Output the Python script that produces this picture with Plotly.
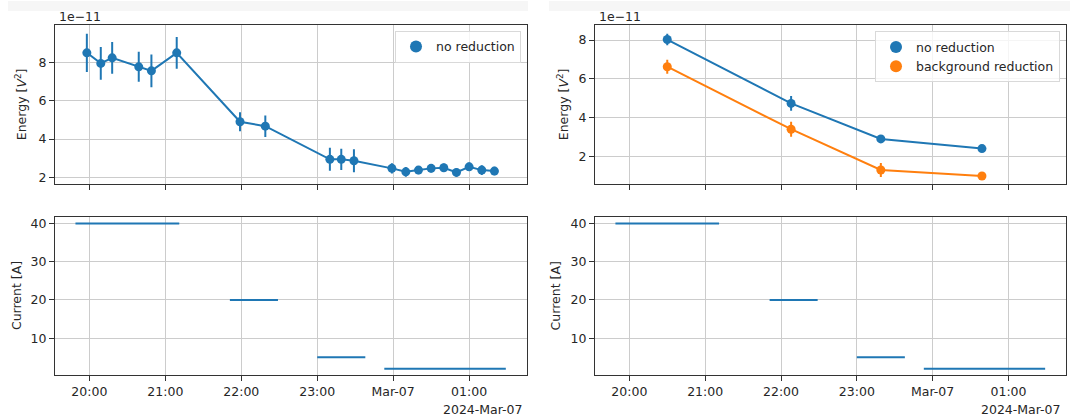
import plotly.graph_objects as go

W, H = 1070, 416

# ---- data -------------------------------------------------------------
# Energy per measurement, no reduction (units of 1e-11 V^2)
times_all = [
    "2024-03-06 19:58", "2024-03-06 20:09", "2024-03-06 20:18", "2024-03-06 20:39",
    "2024-03-06 20:49", "2024-03-06 21:09", "2024-03-06 21:59", "2024-03-06 22:19",
    "2024-03-06 23:10", "2024-03-06 23:19", "2024-03-06 23:29", "2024-03-06 23:59",
    "2024-03-07 00:10", "2024-03-07 00:20", "2024-03-07 00:30", "2024-03-07 00:40",
    "2024-03-07 00:50", "2024-03-07 01:00", "2024-03-07 01:10", "2024-03-07 01:20",
]
energy_all = [8.49, 7.94, 8.23, 7.76, 7.55, 8.49, 4.90, 4.67, 2.94, 2.94,
              2.87, 2.47, 2.29, 2.38, 2.47, 2.50, 2.26, 2.55, 2.38, 2.33]
energy_all_err = [1.00, 0.85, 0.83, 0.78, 0.85, 0.83, 0.50, 0.56, 0.60, 0.55,
                  0.60, 0.27, 0.25, 0.22, 0.22, 0.22, 0.22, 0.22, 0.25, 0.22]

# Energy averaged per current step
times_step = ["2024-03-06 20:30", "2024-03-06 22:08", "2024-03-06 23:19", "2024-03-07 00:39"]
energy_step = [8.03, 4.74, 2.91, 2.41]
energy_step_err = [0.30, 0.38, 0.12, 0.10]
energy_bg = [6.63, 3.41, 1.31, 1.00]
energy_bg_err = [0.36, 0.39, 0.36, 0.08]

# Current steps
current_start = ["2024-03-06 19:49", "2024-03-06 21:51", "2024-03-06 23:00", "2024-03-06 23:53"]
current_end = ["2024-03-06 21:11", "2024-03-06 22:29", "2024-03-06 23:38", "2024-03-07 01:29"]
current_val = [40, 20, 5, 2]

tick_vals = ["2024-03-06 20:00", "2024-03-06 21:00", "2024-03-06 22:00",
             "2024-03-06 23:00", "2024-03-07 00:00", "2024-03-07 01:00"]
tick_text = ["20:00", "21:00", "22:00", "23:00", "Mar-07", "01:00"]
x_range = ["2024-03-06 19:32:50", "2024-03-07 01:45:30"]

BLUE = "#1f77b4"
ORANGE = "#ff7f0e"
FONT = dict(family="DejaVu Sans", size=12.5, color="#262626")

# ---- figure -----------------------------------------------------------
fig = go.Figure()


def px_x(p):
    return p / W


def px_y(p):
    return 1 - p / H


def series(xaxis, yaxis, x, y, err, color, name, legend, show):
    fig.add_trace(go.Scatter(x=x, y=y, mode="lines", line=dict(color=color, width=2),
                             xaxis=xaxis, yaxis=yaxis, showlegend=False, hoverinfo="skip"))
    fig.add_trace(go.Scatter(x=x, y=y, mode="markers", name=name,
                             marker=dict(color=color, size=9),
                             error_y=dict(type="data", array=err, thickness=2, width=0, color=color),
                             xaxis=xaxis, yaxis=yaxis, showlegend=show, legend=legend))


def current(xaxis, yaxis):
    xs, ys = [], []
    for s, e, v in zip(current_start, current_end, current_val):
        xs += [s, e, None]
        ys += [v, v, None]
    fig.add_trace(go.Scatter(x=xs, y=ys, mode="lines", line=dict(color=BLUE, width=2),
                             xaxis=xaxis, yaxis=yaxis, showlegend=False))


series("x", "y", times_all, energy_all, energy_all_err, BLUE, "no reduction", "legend", True)
current("x2", "y2")
series("x3", "y3", times_step, energy_step, energy_step_err, BLUE, "no reduction", "legend2", True)
series("x3", "y3", times_step, energy_bg, energy_bg_err, ORANGE, "background reduction", "legend2", True)
current("x4", "y4")

common = dict(showline=True, mirror=True, linecolor="#333333", linewidth=1,
              showgrid=True, gridcolor="#cccccc", gridwidth=1, zeroline=False,
              ticks="outside", ticklen=5, tickwidth=1, tickcolor="#333333",
              tickfont=FONT)

# panel frames in pixels: (left, right, top, bottom)
left_x = [px_x(55), px_x(526.7)]
right_x = [px_x(595), px_x(1066)]
top_y = [px_y(184), px_y(24.3)]
bot_y = [px_y(376), px_y(216.7)]

xcommon = dict(common, type="date", range=x_range, tickvals=tick_vals, ticktext=tick_text)

fig.update_layout(
    width=W, height=H,
    margin=dict(l=0, r=0, t=0, b=0),
    paper_bgcolor="white", plot_bgcolor="white",
    font=FONT,
    xaxis=dict(xcommon, domain=left_x, anchor="y", showticklabels=False),
    yaxis=dict(common, domain=top_y, anchor="x", range=[1.65, 9.93], tickvals=[2, 4, 6, 8]),
    xaxis2=dict(xcommon, domain=left_x, anchor="y2"),
    yaxis2=dict(common, domain=bot_y, anchor="x2", range=[0.3, 41.8], tickvals=[10, 20, 30, 40]),
    xaxis3=dict(xcommon, domain=right_x, anchor="y3", showticklabels=False),
    yaxis3=dict(common, domain=top_y, anchor="x3", range=[0.58, 8.77], tickvals=[2, 4, 6, 8]),
    xaxis4=dict(xcommon, domain=right_x, anchor="y4"),
    yaxis4=dict(common, domain=bot_y, anchor="x4", range=[0.3, 41.8], tickvals=[10, 20, 30, 40]),
    legend=dict(x=px_x(521), y=px_y(30), xanchor="right", yanchor="top",
                bgcolor="rgba(255,255,255,0.8)", bordercolor="#d9d9d9", borderwidth=1,
                font=FONT, itemsizing="constant"),
    legend2=dict(x=px_x(1060), y=px_y(30.5), xanchor="right", yanchor="top",
                 bgcolor="rgba(255,255,255,0.8)", bordercolor="#d9d9d9", borderwidth=1,
                 font=FONT, itemsizing="constant"),
    showlegend=True,
)

# faint header strips above each panel column
for x0, x1 in [(8, 528), (549, 1070)]:
    fig.add_shape(type="rect", xref="paper", yref="paper", layer="below",
                  x0=px_x(x0), x1=px_x(x1), y0=px_y(10), y1=1,
                  fillcolor="#f6f6f6", line=dict(width=0))

annotations = []
# axis titles
for x, yc, text in [(20.7, 104, "Energy [<i>V</i><sup>2</sup>]"),
                    (16.5, 296, "Current [A]"),
                    (562.7, 104, "Energy [<i>V</i><sup>2</sup>]"),
                    (555.8, 296, "Current [A]")]:
    annotations.append(dict(x=px_x(x), y=px_y(yc), xref="paper", yref="paper", text=text,
                            textangle=-90, showarrow=False, xanchor="center", yanchor="middle",
                            font=FONT))
# offset exponent labels
for x in [56.5, 596.5]:
    annotations.append(dict(x=px_x(x), y=px_y(16), xref="paper", yref="paper", text="1e\u221211",
                            showarrow=False, xanchor="left", yanchor="middle", font=FONT))
# date offset labels
for x in [525, 1063]:
    annotations.append(dict(x=px_x(x), y=px_y(410), xref="paper", yref="paper", text="2024-Mar-07",
                            showarrow=False, xanchor="right", yanchor="middle", font=FONT))
fig.update_layout(annotations=annotations)

fig.write_html("out.html")
